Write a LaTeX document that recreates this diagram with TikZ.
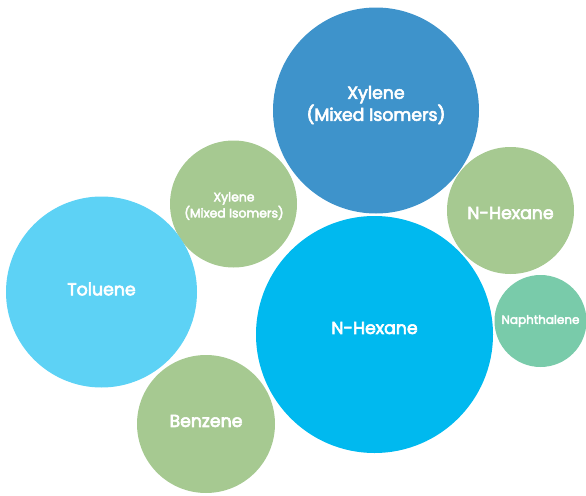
\documentclass[tikz,border=0pt]{standalone}
\usepackage{fontspec}
\setmainfont{Poppins}
\newfontfamily\lblfont{Poppins}[FakeBold=3.5]
\definecolor{cBlue}{HTML}{3E93CB}
\definecolor{cGreen}{HTML}{A6C991}
\definecolor{cLight}{HTML}{5DD2F5}
\definecolor{cCyan}{HTML}{00B9EF}
\definecolor{cTeal}{HTML}{79CBAA}
\tikzset{
  bub/.style={circle, inner sep=0pt, text=white, align=center},
  bigtxt/.style={font=\fontsize{13}{13.5}\selectfont\lblfont},
  smalltxt/.style={font=\fontsize{9.3}{9.8}\selectfont\lblfont},
  naptxt/.style={font=\fontsize{9}{9.8}\selectfont\lblfont},
}
\begin{document}
\begin{tikzpicture}[x=0.75pt,y=-0.75pt]
\useasboundingbox (0,0) rectangle (586,496);
\fill[cBlue]  (376,110.5) circle (103);
\fill[cGreen] (233.5,204) circle (63.5);
\fill[cLight] (101.5,292) circle (95.5);
\fill[cCyan]  (374.5,334.5) circle (118.5);
\fill[cGreen] (510.5,210.5) circle (63.5);
\fill[cTeal]  (540.5,321) circle (46);
\fill[cGreen] (206,424) circle (69);
\node[bub,bigtxt] (xb) at (376,105) {Xylene\\(Mixed Isomers)};
\node[bub,smalltxt] (xs) at (234,206) {Xylene\\(Mixed Isomers)};
\node[bub,bigtxt] (tol) at (101.5,289) {Toluene};
\node[bub,bigtxt] (hb) at (374.5,328) {N-Hexane};
\node[bub,bigtxt] (hs) at (510.5,213) {N-Hexane};
\node[bub,naptxt] (nap) at (540.5,321) {Naphthalene};
\node[bub,bigtxt] (ben) at (206,421) {Benzene};
\end{tikzpicture}
\end{document}
